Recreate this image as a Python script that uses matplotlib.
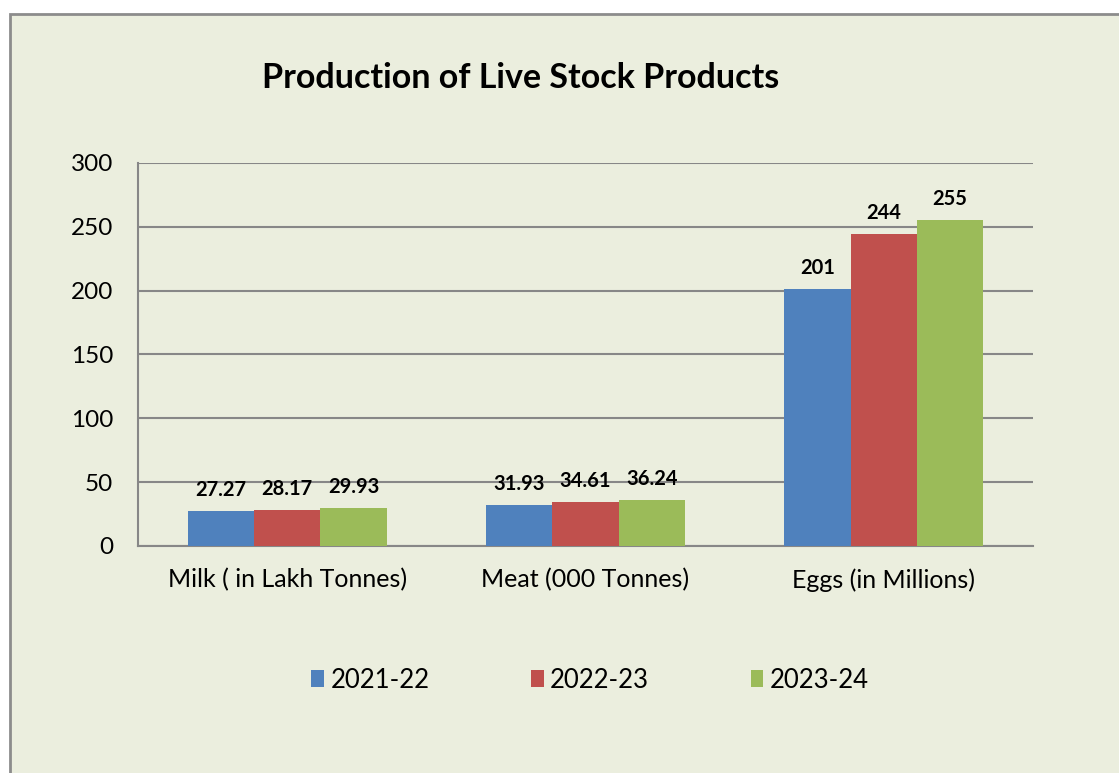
import matplotlib
matplotlib.use("Agg")
import matplotlib.pyplot as plt
from matplotlib.patches import Rectangle
import numpy as np

categories = ["Milk ( in Lakh Tonnes)", "Meat (000 Tonnes)", "Eggs (in Millions)"]
series_names = ["2021-22", "2022-23", "2023-24"]
v_2021_22 = [27.27, 31.93, 201]
v_2022_23 = [28.17, 34.61, 244]
v_2023_24 = [29.93, 36.24, 255]
label_2021_22 = ["27.27", "31.93", "201"]
label_2022_23 = ["28.17", "34.61", "244"]
label_2023_24 = ["29.93", "36.24", "255"]
yticks = [0, 50, 100, 150, 200, 250, 300]

colors = ["#4F81BD", "#C0504D", "#9BBB59"]
bg = "#EBEEDE"
grid_c = "#878787"

plt.rcParams['font.family'] = ['Lato', 'DejaVu Sans']

W, H = 1119, 773
fig = plt.figure(figsize=(W / 100, H / 100), dpi=100, facecolor="white")

# outer chart frame (clipped at right and bottom)
frame = Rectangle((10 / W, -0.05), 1.2, 1 - 14 / H + 0.05, transform=fig.transFigure,
                  facecolor=bg, edgecolor="#8C8C8C", linewidth=2, zorder=-10)
fig.patches.append(frame)

ax = fig.add_axes([138 / W, 1 - 546 / H, (1033 - 138) / W, (546 - 163) / H])
ax.set_facecolor(bg)
ax.patch.set_alpha(0)

x = np.arange(len(categories))
bw = 2 / 9
all_vals = [v_2021_22, v_2022_23, v_2023_24]
all_labels = [label_2021_22, label_2022_23, label_2023_24]
handles = []
for i, (vals, labs) in enumerate(zip(all_vals, all_labels)):
    pos = x + (i - 1) * bw
    b = ax.bar(pos, vals, width=bw, color=colors[i], zorder=3, label=series_names[i])
    handles.append(b)
    for p, v, t in zip(pos, vals, labs):
        ax.annotate(t, (p, v), xytext=(0, 8), textcoords="offset points",
                    ha="center", va="bottom", fontsize=14.5, fontweight="bold", color="black")

ax.set_xlim(-0.5, 2.5)
ax.set_ylim(0, 300)
ax.set_yticks(yticks)
ax.set_yticklabels([str(t) for t in yticks], fontsize=17.5)
ax.set_xticks(x)
ax.set_xticklabels(categories, fontsize=18)
ax.tick_params(axis="both", length=0, colors="black")
ax.tick_params(axis="y", pad=18)
ax.tick_params(axis="x", pad=16)
ax.yaxis.grid(True, color=grid_c, linewidth=1.5, zorder=0)
ax.set_axisbelow(True)
for s in ["top", "right"]:
    ax.spines[s].set_visible(False)
for s in ["left", "bottom"]:
    ax.spines[s].set_color(grid_c)
    ax.spines[s].set_linewidth(1.5)

fig.text(521 / W, 1 - 78 / H, "Production of Live Stock Products", ha="center", va="center",
         fontsize=24.5, fontweight="bold", color="black")

leg = fig.legend(handles=handles, labels=series_names, loc="center", ncol=3,
                 bbox_to_anchor=(590 / W, 1 - 680 / H), frameon=False, fontsize=18.5,
                 handlelength=0.5, handleheight=0.6, handletextpad=0.25, columnspacing=3.95)

fig.savefig("out.png", dpi=100, facecolor="white")
